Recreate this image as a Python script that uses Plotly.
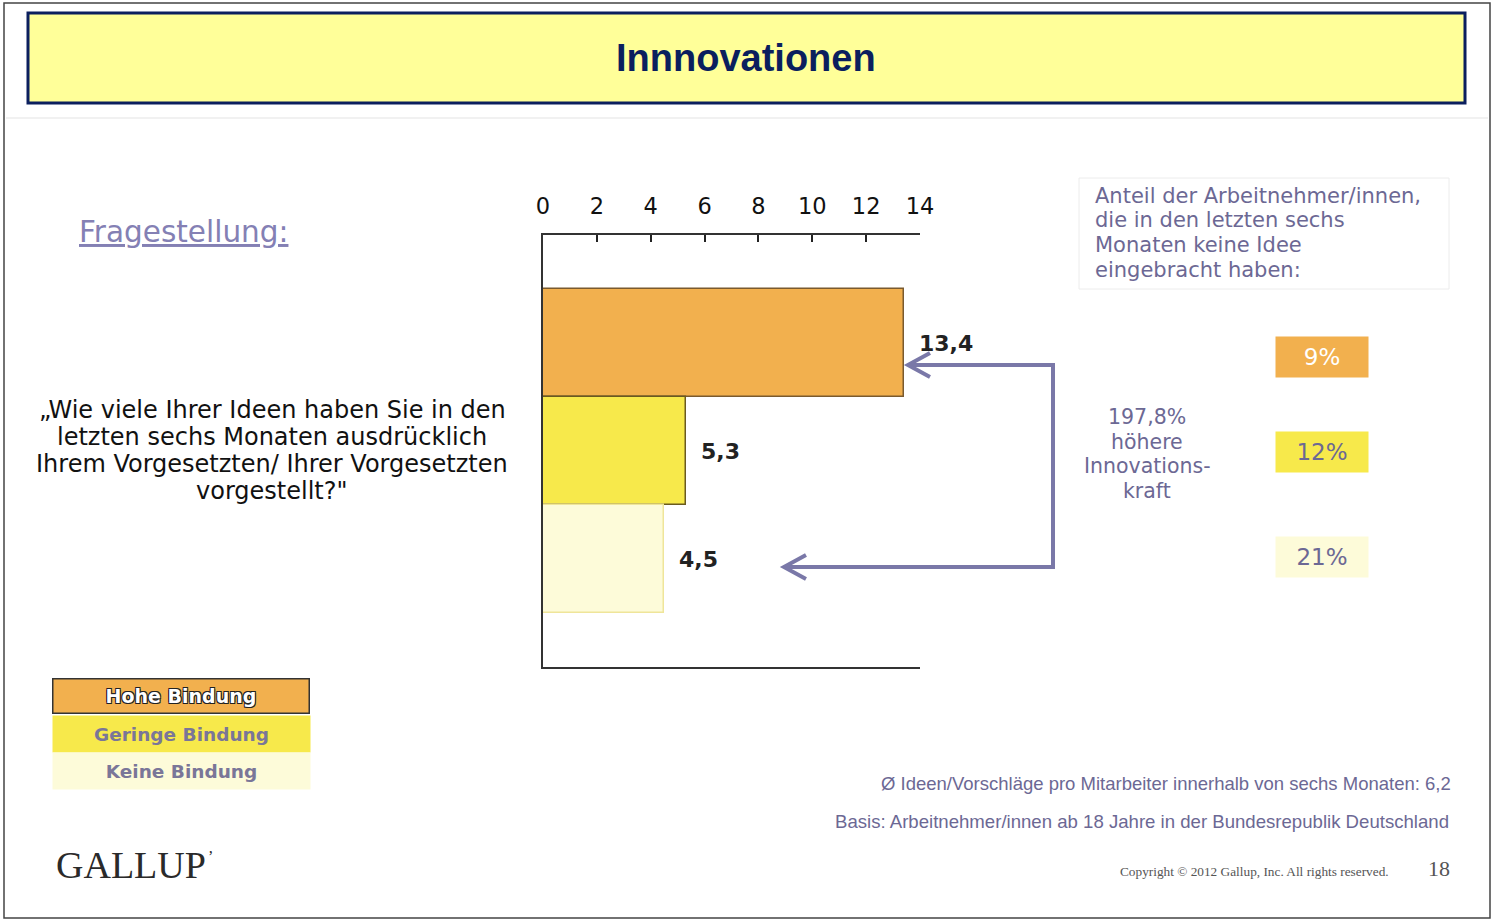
import plotly.graph_objects as go

# ---- data ----
categories = ["Hohe Bindung", "Geringe Bindung", "Keine Bindung"]
ideas_per_employee = [13.4, 5.3, 4.5]
no_idea_share = ["9%", "12%", "21%"]
tick_values = [0, 2, 4, 6, 8, 10, 12, 14]
bar_colors = ["#f2b04e", "#f7e94b", "#fdfbd9"]
bar_lines = ["#7a5a2e", "#6a5a20", "#efe59a"]

question_lines = ["„Wie viele Ihrer Ideen haben Sie in den", "letzten sechs Monaten ausdrücklich",
                  "Ihrem Vorgesetzten/ Ihrer Vorgesetzten", "vorgestellt?\""]
info_lines = ["Anteil der Arbeitnehmer/innen,", "die in den letzten sechs",
              "Monaten keine Idee", "eingebracht haben:"]
uplift_lines = ["197,8%", "höhere", "Innovations-", "kraft"]

W, H = 1493, 921
FONT = "DejaVu Sans, Verdana, sans-serif"
ARIAL = "Liberation Sans, Arial, sans-serif"
SERIF = "Liberation Serif, Times New Roman, serif"
PURPLE = "#6c6894"


def px(x):
    return x / W


def py(y):
    return 1 - y / H


fig = go.Figure()
fig.add_trace(go.Bar(
    x=ideas_per_employee, y=categories, orientation="h",
    marker=dict(color=bar_colors, line=dict(color=bar_lines, width=1.5)),
    width=1.0, showlegend=False, hoverinfo="x+y",
))

annotations = []


def txt(x, y, text, size, color, family=FONT, xanchor="center", **kw):
    d = dict(x=px(x), y=py(y), xref="paper", yref="paper", showarrow=False, text=text,
             xanchor=xanchor, yanchor="middle", font=dict(family=family, size=size, color=color))
    d.update(kw)
    annotations.append(d)


# value labels next to bars
for c, v in zip(categories, ideas_per_employee):
    annotations.append(dict(
        x=v, y=c, xref="x", yref="y", xanchor="left", yanchor="middle",
        xshift=13, yshift=0, showarrow=False,
        text="<b>" + f"{v:.1f}".replace(".", ",") + "</b>",
        font=dict(family=FONT, size=22, color="#222222"),
    ))

# title
txt(746, 58, "<b>Innnovationen</b>", 38, "#0b1f5e", family=ARIAL)

# Fragestellung
txt(77, 232, "<u>Fragestellung:</u>", 29.5, "#8480b4", xanchor="left")

# question
for line, yy in zip(question_lines, [410, 437, 464, 491]):
    txt(272, yy, line, 24, "#111111")

# right info box text
for line, yy in zip(info_lines, [196, 220, 245, 270]):
    txt(1093, yy, line, 21, PURPLE, xanchor="left")

# 197,8 %
for line, yy in zip(uplift_lines, [417, 442, 466, 491]):
    txt(1147, yy, line, 20.5, PURPLE)

# percentage boxes
box_y = [357, 452, 557]
box_text_col = ["#ffffff", PURPLE, PURPLE]
for s, yy, col, tc in zip(no_idea_share, box_y, bar_colors, box_text_col):
    txt(1322, yy, s, 23, tc, width=92, height=40, bgcolor=col, borderpad=0)

# legend boxes
leg_y = [696, 734, 771]
for i, (c, yy, col) in enumerate(zip(categories, leg_y, bar_colors)):
    if i == 0:
        annotations.append(dict(
            x=px(181), y=py(yy), xref="paper", yref="paper", showarrow=False,
            text="<b>" + c + "</b>", xanchor="center", yanchor="middle",
            width=255, height=33, bgcolor=col, bordercolor="#333333", borderwidth=1.5, borderpad=0,
            font=dict(family=FONT, size=19, color="#ffffff",
                      shadow="1px 1px 0 #222, -1px -1px 0 #222, 1px -1px 0 #222, -1px 1px 0 #222")))
    else:
        txt(181, yy, "<b>" + c + "</b>", 18.5, "#7a7698", width=257, height=36, bgcolor=col, borderpad=0)

# footer
txt(1453, 783, "Ø Ideen/Vorschläge pro Mitarbeiter innerhalb von sechs Monaten: 6,2", 18.5, PURPLE,
    family=ARIAL, xanchor="right")
txt(1451, 821, "Basis: Arbeitnehmer/innen ab 18 Jahre in der Bundesrepublik Deutschland", 18.6, PURPLE,
    family=ARIAL, xanchor="right")
txt(1391, 871, "Copyright © 2012 Gallup, Inc. All rights reserved.", 13.3, "#555555",
    family=SERIF, xanchor="right")
txt(1452, 868, "18", 22, "#555555", family=SERIF, xanchor="right")
txt(54, 865, "GALLUP", 38, "#2a2a2a", family=SERIF, xanchor="left")
txt(206, 856, "’", 16, "#2a2a2a", family=SERIF, xanchor="left")

ARROW = "#7a78a8"
shapes = [
    # page frame
    dict(type="rect", xref="paper", yref="paper", x0=px(4), y0=py(918), x1=px(1490), y1=py(3),
         line=dict(color="#444444", width=1.5), fillcolor="rgba(0,0,0,0)", layer="below"),
    # title box
    dict(type="rect", xref="paper", yref="paper", x0=px(28), y0=py(103), x1=px(1465), y1=py(13),
         line=dict(color="#0b1f5e", width=3), fillcolor="#ffff99", layer="below"),
    # faint separator
    dict(type="line", xref="paper", yref="paper", x0=px(6), y0=py(118), x1=px(1488), y1=py(118),
         line=dict(color="#ececec", width=1.5)),
    # info box
    dict(type="rect", xref="paper", yref="paper", x0=px(1079), y0=py(289), x1=px(1449), y1=py(178),
         line=dict(color="#ececec", width=1), fillcolor="rgba(0,0,0,0)"),
    # bracket arrow
    dict(type="path", xref="paper", yref="paper",
         path=f"M {px(909)} {py(365)} L {px(1053)} {py(365)} L {px(1053)} {py(567)} L {px(785)} {py(567)}",
         line=dict(color=ARROW, width=4)),
    dict(type="path", xref="paper", yref="paper",
         path=f"M {px(930)} {py(353)} L {px(908)} {py(365)} L {px(930)} {py(377)}",
         line=dict(color=ARROW, width=4)),
    dict(type="path", xref="paper", yref="paper",
         path=f"M {px(806)} {py(555)} L {px(784)} {py(567)} L {px(806)} {py(579)}",
         line=dict(color=ARROW, width=4)),
]

fig.update_layout(
    autosize=True, margin=dict(l=0, r=0, t=0, b=0, pad=0),
    paper_bgcolor="white", plot_bgcolor="white",
    bargap=0, showlegend=False,
    xaxis=dict(domain=[px(543), px(920)], range=[0, 14], side="top",
               tickvals=tick_values, ticktext=[str(t) for t in tick_values],
               ticks="inside", ticklen=7, tickcolor="#222222", tickwidth=1.5,
               showline=True, linecolor="#333333", linewidth=1.5, mirror=True,
               showgrid=False, zeroline=False, ticklabelstandoff=10, automargin=False,
               tickfont=dict(family=FONT, size=22.5, color="#111111"), fixedrange=True),
    yaxis=dict(domain=[py(667), py(235)], categoryorder="array", categoryarray=categories,
               range=[3.0, -1.0], showticklabels=False, ticks="", automargin=False,
               showline=True, linecolor="#333333", linewidth=1.5, mirror=False,
               showgrid=False, zeroline=False, fixedrange=True),
    annotations=annotations, shapes=shapes,
)

fig.write_html(
    "out.html",
    default_width="100vw", default_height="100vh",
    config={"displayModeBar": False, "responsive": True},
    post_script="document.documentElement.style.overflow='hidden';document.body.style.margin='0';"
                "document.body.style.overflow='hidden';",
)
